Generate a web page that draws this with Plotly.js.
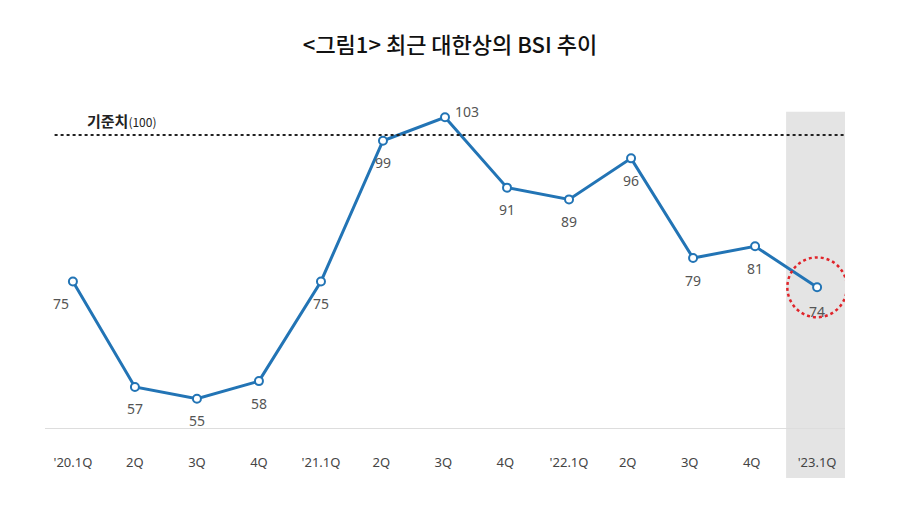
<!DOCTYPE html>
<html><head><meta charset="utf-8">
<script src="https://cdn.plot.ly/plotly-3.0.0.min.js"></script>
<style>body{margin:0;background:#fff}</style></head>
<body><div id="chart" style="width:900px;height:529px"></div>
<script>
var quarters = ["'20.1Q","2Q","3Q","4Q","'21.1Q","2Q ","3Q ","4Q ","'22.1Q","2Q  ","3Q  ","4Q  ","'23.1Q"];
var bsi = [75,57,55,58,75,99,103,91,89,96,79,81,74];
var baseline = 100;
var labelShift = [[-12,22],[0,22],[0,22],[0,22],[0,22],[0,22],[22,-6],[0,22],[0,22],[0,22],[0,22],[0,22],[0,24]];

var xs = bsi.map(function(_, i){ return i; });
var annotations = bsi.map(function(v, i){
  return {x:i, y:v, text:String(v), showarrow:false, xshift:labelShift[i][0], yshift:-labelShift[i][1],
    font:{family:"Noto Sans, sans-serif", size:14, color:"#555"}};
});
annotations.push({xref:"paper", yref:"y", x:0.05, y:baseline, xanchor:"left", yanchor:"bottom", yshift:2, showarrow:false,
  text:"<b>기준치</b><span style='font-size:12px'>(100)</span>", font:{family:"Noto Sans CJK KR", size:15, color:"#222"}});

var trace = {x:xs, y:bsi, mode:"lines+markers", line:{color:"#2274b5", width:3},
  marker:{size:8, color:"#fff", line:{color:"#2274b5", width:2}}, hoverinfo:"skip"};

var layout = {
  width:900, height:529, margin:{l:45, r:55, t:88, b:101},
  paper_bgcolor:"#fff", plot_bgcolor:"rgba(0,0,0,0)", showlegend:false,
  title:{text:"<그림1> 최근 대한상의 BSI 추이", x:0.5, y:0.915, yanchor:"middle",
    font:{family:"Noto Sans CJK KR", size:22, color:"#111", weight:500}},
  xaxis:{range:[-0.45,12.45], tickvals:xs, ticktext:quarters, ticks:"outside", ticklen:22, tickcolor:"rgba(0,0,0,0)",
    showgrid:false, zeroline:false, showline:true, linecolor:"#ddd", linewidth:1,
    tickfont:{family:"Noto Sans, sans-serif", size:13, color:"#444"}, fixedrange:true},
  yaxis:{range:[50,108], visible:false, fixedrange:true},
  shapes:[
    {type:"rect", xref:"x", yref:"paper", x0:11.5, x1:12.52, y0:-0.147, y1:0.93, fillcolor:"#e4e4e4", line:{width:0}, layer:"below"},
    {type:"line", xref:"paper", yref:"y", x0:0.012, x1:1, y0:baseline, y1:baseline, line:{color:"#222", width:2, dash:"dot"}},
    {type:"circle", xref:"x", yref:"y", x0:11.52, x1:12.48, y0:bsi[12]-5.1, y1:bsi[12]+5.1, line:{color:"#e0242a", width:2.5, dash:"dot"}}
  ],
  annotations:annotations
};
Plotly.newPlot("chart", [trace], layout, {staticPlot:true});
</script></body></html>
